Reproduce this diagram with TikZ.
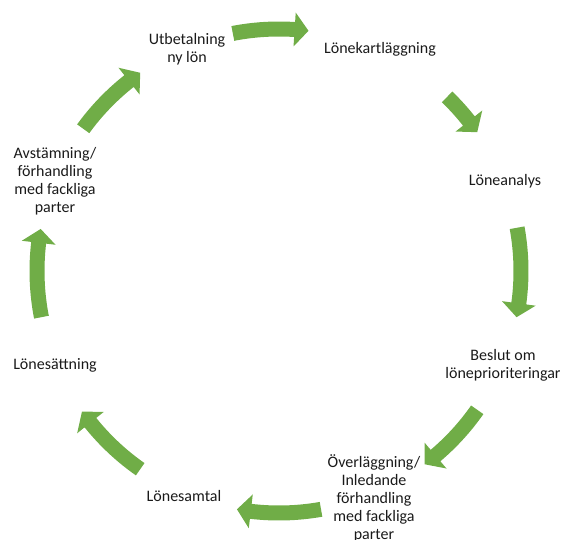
\documentclass[tikz,border=0pt]{standalone}
\usepackage{fontspec}
\setmainfont{Carlito}
\usetikzlibrary{calc}
\definecolor{arrowgreen}{HTML}{70AD47}
\definecolor{txt}{HTML}{1A1A1A}
\newcommand\cycarrow[2]{%
  \fill[arrowgreen] ($(C)+(#1:249.5)$) arc[start angle=#1, end angle={#2+3.3}, radius=249.5]
    -- ($(C)+({#2+3.3}:259)$) -- ($(C)+(#2:242)$) -- ($(C)+({#2+3.3}:225)$)
    -- ($(C)+({#2+3.3}:234.5)$) arc[start angle={#2+3.3}, end angle=#1, radius=234.5] -- cycle;}
\begin{document}
\begin{tikzpicture}[x=0.75pt,y=0.75pt,
  lbl/.style={font=\fontsize{12pt}{13.5pt}\selectfont, text=txt, align=center, inner sep=0pt}]
\useasboundingbox (0,0) rectangle (563,539);
\coordinate (C) at (279,268);
% labels
\node[lbl] (n1) at (187,490) {Utbetalning\\ny lön};
\node[lbl] (n2) at (380,490) {Lönekartläggning};
\node[lbl] (n3) at (505,358) {Löneanalys};
\node[lbl] (n4) at (503,174) {Beslut om\\löneprioriteringar};
\node[lbl] (n5) at (374,41) {Överläggning/\\Inledande\\förhandling\\med fackliga\\parter};
\node[lbl] (n6) at (184,43) {Lönesamtal};
\node[lbl] (n7) at (55,174) {Lönesättning};
\node[lbl] (n8) at (55,358) {Avstämning/\\förhandling\\med fackliga\\parter};
% arrows
\cycarrow{101}{83}
\cycarrow{46}{35}
\cycarrow{10.3}{-11}
\cycarrow{-35}{-53}
\cycarrow{-80}{-100}
\cycarrow{-125}{-144.5}
\cycarrow{191}{170}
\cycarrow{144}{125}
\end{tikzpicture}
\end{document}
